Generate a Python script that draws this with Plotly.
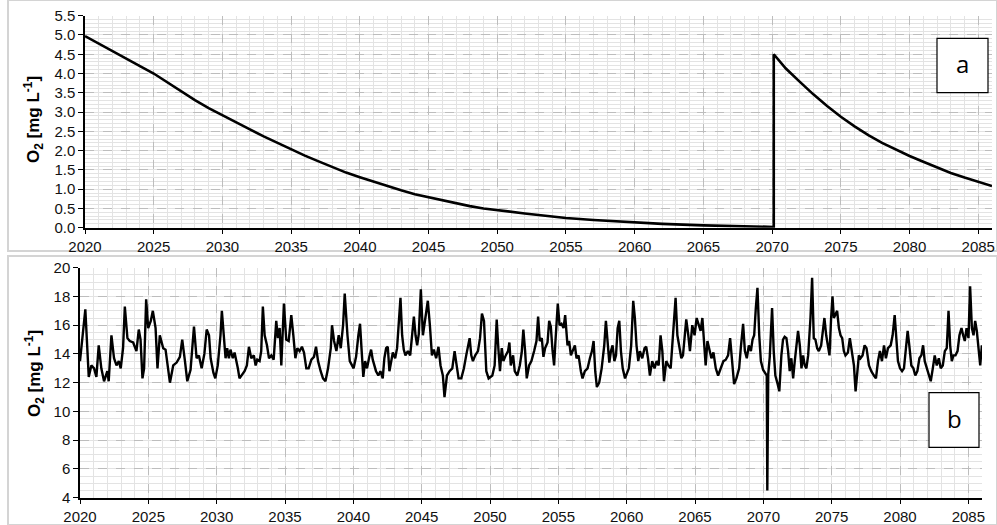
import plotly.graph_objects as go

# ---------------- Panel a: O2 (smooth) ----------------
a_years = [2020, 2021, 2022, 2023, 2024, 2025, 2026, 2027, 2028, 2029,
           2030, 2031, 2032, 2033, 2034, 2035, 2036, 2037, 2038, 2039,
           2040, 2041, 2042, 2043, 2044, 2045, 2046, 2047, 2048, 2049,
           2050, 2052, 2054, 2055, 2057, 2060, 2062, 2065, 2068, 2070, 2070.12,
           2070.12, 2070.5, 2071, 2072, 2073, 2074, 2075, 2076, 2077, 2078, 2079,
           2080, 2081, 2082, 2083, 2084, 2085, 2086]
a_o2 = [4.97, 4.77, 4.57, 4.38, 4.19, 4.0, 3.77, 3.53, 3.31, 3.1,
        2.91, 2.72, 2.55, 2.37, 2.2, 2.03, 1.87, 1.72, 1.57, 1.43,
        1.31, 1.19, 1.07, 0.97, 0.87, 0.79, 0.71, 0.63, 0.56, 0.5,
        0.45, 0.37, 0.29, 0.25, 0.2, 0.14, 0.1, 0.06, 0.03, 0.02, 0.02,
        4.5, 4.33, 4.13, 3.79, 3.46, 3.16, 2.88, 2.63, 2.4, 2.2, 2.02,
        1.86, 1.71, 1.56, 1.42, 1.3, 1.18, 1.08]

# ---------------- Panel b: O2 (noisy) ----------------
b_years = [
    2020.00, 2020.39, 2020.64, 2020.83, 2021.03, 2021.20, 2021.37, 2021.56, 2021.76, 2022.00,
    2022.10, 2022.30, 2022.49, 2022.67, 2022.84, 2022.98, 2023.15, 2023.28, 2023.47, 2023.64,
    2023.89, 2024.13, 2024.30, 2024.43, 2024.57, 2024.69, 2024.84, 2024.99, 2025.18, 2025.33,
    2025.53, 2025.67, 2025.84, 2026.09, 2026.26, 2026.41, 2026.58, 2026.82, 2027.07, 2027.31,
    2027.48, 2027.68, 2027.85, 2028.09, 2028.34, 2028.53, 2028.70, 2028.90, 2029.10, 2029.27,
    2029.44, 2029.56, 2029.76, 2029.90,
    2030.08, 2030.28, 2030.38, 2030.52, 2030.65, 2030.77, 2030.89, 2031.01, 2031.18, 2031.31,
    2031.43, 2031.55, 2031.67, 2031.84, 2032.04, 2032.21, 2032.36, 2032.53, 2032.72, 2032.85,
    2032.97, 2033.14, 2033.26, 2033.38, 2033.51, 2033.68, 2033.83, 2034.00, 2034.17, 2034.36,
    2034.48, 2034.61, 2034.73, 2034.92, 2035.09, 2035.27, 2035.46, 2035.61, 2035.76, 2035.90,
    2036.07, 2036.24, 2036.39, 2036.56, 2036.73, 2036.93, 2037.12, 2037.27, 2037.42, 2037.61,
    2037.78, 2037.96, 2038.15, 2038.35, 2038.44, 2038.59, 2038.76, 2038.93, 2039.08, 2039.25,
    2039.37, 2039.57, 2039.74,
    2040.02, 2040.20, 2040.37, 2040.49, 2040.61, 2040.73, 2040.86, 2041.00, 2041.17, 2041.30,
    2041.42, 2041.54, 2041.66, 2041.83, 2041.98, 2042.15, 2042.27, 2042.40, 2042.52, 2042.64,
    2042.76, 2042.89, 2043.06, 2043.20, 2043.30, 2043.45, 2043.57, 2043.69, 2043.81, 2043.99,
    2044.16, 2044.30, 2044.43, 2044.55, 2044.67, 2044.79, 2044.94, 2045.09, 2045.26, 2045.45,
    2045.60, 2045.75, 2045.89, 2046.06, 2046.23, 2046.38, 2046.55, 2046.67, 2046.85, 2047.04,
    2047.24, 2047.41, 2047.53, 2047.70, 2047.90, 2048.09, 2048.26, 2048.39, 2048.51, 2048.63,
    2048.75, 2048.92, 2049.12, 2049.27, 2049.41, 2049.56, 2049.73, 2049.90,
    2050.17, 2050.34, 2050.49, 2050.61, 2050.73, 2050.86, 2050.98, 2051.15, 2051.32, 2051.42,
    2051.52, 2051.69, 2051.81, 2052.00, 2052.18, 2052.32, 2052.44, 2052.57, 2052.69, 2052.86,
    2053.03, 2053.23, 2053.40, 2053.52, 2053.64, 2053.79, 2053.91, 2054.03, 2054.21, 2054.33,
    2054.45, 2054.57, 2054.69, 2054.79, 2054.96, 2055.09, 2055.23, 2055.38, 2055.50, 2055.67,
    2055.79, 2055.92, 2056.04, 2056.21, 2056.33, 2056.48, 2056.65, 2056.77, 2056.94, 2057.14,
    2057.31, 2057.46, 2057.58, 2057.70, 2057.82, 2057.99, 2058.17, 2058.36, 2058.48, 2058.61,
    2058.73, 2058.85, 2058.97, 2059.10, 2059.22, 2059.34, 2059.46, 2059.58, 2059.71, 2059.88,
    2060.16, 2060.33, 2060.48, 2060.60, 2060.72, 2060.85, 2060.97, 2061.14, 2061.31, 2061.43,
    2061.56, 2061.70, 2061.87, 2062.04, 2062.19, 2062.34, 2062.48, 2062.61, 2062.73, 2062.90,
    2063.05, 2063.22, 2063.34, 2063.46, 2063.58, 2063.71, 2063.83, 2064.00, 2064.12, 2064.27,
    2064.36, 2064.51, 2064.63, 2064.80, 2064.97, 2065.12, 2065.29, 2065.41, 2065.54, 2065.66,
    2065.78, 2065.91, 2066.03, 2066.20, 2066.35, 2066.52, 2066.69, 2066.89, 2067.08, 2067.25,
    2067.42, 2067.57, 2067.74, 2067.86, 2068.03, 2068.23, 2068.35, 2068.52, 2068.65, 2068.79,
    2068.94, 2069.09, 2069.21, 2069.33, 2069.45, 2069.57, 2069.70, 2069.82, 2069.98,
    2070.15, 2070.25, 2070.29, 2070.36, 2070.47, 2070.64, 2070.76, 2070.88, 2071.05, 2071.17,
    2071.32, 2071.44, 2071.56, 2071.69, 2071.81, 2071.93, 2072.05, 2072.18, 2072.30, 2072.42,
    2072.54, 2072.67, 2072.79, 2072.91, 2073.03, 2073.15, 2073.28, 2073.45, 2073.57, 2073.69,
    2073.81, 2073.94, 2074.06, 2074.23, 2074.35, 2074.47, 2074.60, 2074.72, 2074.84, 2074.96,
    2075.06, 2075.16, 2075.28, 2075.40, 2075.53, 2075.65, 2075.77, 2075.89, 2076.01, 2076.19,
    2076.33, 2076.45, 2076.63, 2076.75, 2076.87, 2076.99, 2077.11, 2077.26, 2077.41, 2077.55,
    2077.73, 2077.90, 2078.09, 2078.24, 2078.39, 2078.53, 2078.68, 2078.83, 2078.97, 2079.12,
    2079.32, 2079.46, 2079.61, 2079.73, 2079.85, 2080.00, 2080.15, 2080.29, 2080.44, 2080.56,
    2080.68, 2080.83, 2080.98, 2081.12, 2081.27, 2081.42, 2081.56, 2081.69, 2081.81, 2081.96,
    2082.10, 2082.25, 2082.40, 2082.54, 2082.69, 2082.84, 2082.98, 2083.13, 2083.28, 2083.42,
    2083.55, 2083.67, 2083.79, 2083.91, 2084.06, 2084.21, 2084.35, 2084.50, 2084.62, 2084.74,
    2084.87, 2085.01, 2085.13, 2085.26, 2085.38, 2085.50, 2085.62, 2085.75, 2085.87, 2085.99,
]
b_o2 = [
    13.5, 17.1, 12.4, 13.2, 13.0, 12.4, 14.6, 13.0, 12.1, 12.8,
    12.1, 15.3, 13.7, 13.2, 13.5, 13.0, 14.4, 17.3, 15.1, 14.9,
    14.8, 14.2, 15.7, 15.0, 12.3, 13.0, 17.8, 15.8, 16.3, 17.0,
    15.8, 13.0, 15.3, 14.4, 14.3, 13.2, 12.0, 13.2, 13.4, 13.8,
    15.0, 13.5, 12.1, 12.9, 15.9, 13.7, 13.9, 13.0, 14.0, 15.7,
    15.3, 13.7, 12.7, 12.3,
    13.2, 15.3, 17.0, 15.3, 13.7, 14.4, 13.7, 14.3, 13.7, 14.1,
    13.6, 13.0, 12.3, 12.5, 12.8, 13.2, 14.5, 13.7, 13.9, 13.2,
    13.6, 13.5, 14.2, 17.3, 15.3, 14.6, 13.7, 13.9, 13.6, 16.3,
    15.1, 15.8, 13.2, 17.5, 15.0, 14.9, 16.7, 15.3, 13.7, 14.4,
    14.2, 14.5, 14.1, 13.0, 13.0, 13.6, 13.8, 14.5, 13.5, 12.8,
    12.3, 12.1, 13.0, 14.4, 16.0, 14.9, 14.2, 15.3, 14.4, 16.0,
    18.2, 15.3, 13.5,
    13.0, 13.8, 15.3, 16.1, 14.2, 12.4, 13.5, 13.0, 13.8, 14.3,
    13.6, 13.2, 12.8, 12.5, 12.8, 12.3, 13.7, 14.4, 14.5, 12.8,
    13.5, 14.1, 13.7, 14.4, 15.8, 17.9, 15.3, 14.3, 13.9, 14.2,
    13.9, 15.3, 16.6, 15.3, 14.6, 15.4, 18.5, 15.3, 16.3, 17.7,
    16.0, 13.9, 14.3, 13.7, 14.5, 13.2, 12.5, 11.0, 12.5, 12.8,
    13.0, 14.2, 13.4, 12.3, 12.3, 13.0, 13.9, 14.6, 15.1, 13.9,
    13.5, 13.9, 14.2, 15.1, 16.8, 16.3, 12.8, 12.3,
    12.5, 13.2, 16.4, 14.4, 12.8, 14.4, 13.5, 13.9, 14.2, 14.8,
    13.2, 13.9, 12.8, 12.5, 13.2, 14.1, 15.7, 14.2, 12.3, 13.2,
    13.5, 14.2, 14.9, 16.6, 14.9, 15.1, 13.8, 14.4, 14.8, 16.3,
    15.9, 14.3, 13.2, 14.9, 17.5, 16.0, 16.1, 15.8, 16.7, 14.6,
    14.9, 13.9, 14.2, 14.6, 13.7, 13.9, 12.8, 12.3, 12.8, 13.0,
    13.7, 14.2, 14.9, 12.8, 11.7, 12.0, 13.0, 14.6, 16.3, 14.6,
    13.4, 14.2, 14.6, 13.5, 13.9, 15.8, 16.3, 14.2, 13.0, 12.3,
    13.0, 14.6, 17.7, 16.5, 14.6, 13.5, 14.2, 13.7, 14.4, 14.5,
    13.7, 12.5, 13.5, 13.0, 13.5, 13.2, 15.3, 14.2, 12.1, 13.5,
    13.2, 13.0, 14.9, 16.3, 17.9, 15.3, 14.6, 13.7, 13.9, 15.3,
    16.4, 15.3, 14.2, 16.0, 15.3, 16.5, 16.0, 15.6, 16.5, 14.4,
    13.2, 14.9, 14.4, 13.7, 14.1, 13.0, 12.5, 13.0, 13.5, 13.6,
    13.9, 15.1, 13.0, 11.9, 12.3, 13.0, 14.4, 16.1, 14.2, 13.7,
    14.6, 14.2, 15.0, 15.3, 17.2, 18.6, 15.3, 13.5, 12.9,
    12.7, 12.5, 4.5, 12.6, 13.8, 17.2, 14.2, 12.5, 11.9, 11.4,
    13.9, 15.0, 15.2, 15.1, 14.2, 12.8, 13.7, 12.3, 13.5, 14.6,
    15.6, 14.6, 13.0, 13.9, 13.2, 13.0, 13.9, 16.5, 19.3, 15.1,
    15.0, 14.4, 14.2, 14.6, 15.6, 16.5, 15.3, 14.4, 13.9, 16.5,
    18.0, 16.5, 16.7, 17.0, 15.8, 15.3, 15.1, 14.2, 13.9, 14.1,
    15.1, 14.2, 13.2, 11.4, 12.8, 13.9, 13.7, 13.9, 14.6, 14.4,
    13.2, 12.8, 12.5, 12.3, 13.5, 14.2, 13.5, 14.6, 13.7, 14.4,
    14.6, 15.3, 16.7, 15.3, 13.5, 13.0, 12.8, 13.0, 14.4, 15.6,
    14.6, 13.2, 13.0, 12.5, 12.8, 13.7, 13.9, 14.6, 13.5, 13.0,
    12.5, 12.1, 13.0, 13.9, 13.2, 13.7, 13.0, 13.2, 14.2, 14.4,
    17.0, 14.6, 13.5, 13.9, 13.9, 14.2, 15.3, 15.8, 15.3, 14.9,
    15.8, 15.1, 18.7, 15.8, 15.3, 16.3, 15.6, 14.2, 13.2, 14.6,
]

x_range = [2020, 2086]
a_yticks = [0.0, 0.5, 1.0, 1.5, 2.0, 2.5, 3.0, 3.5, 4.0, 4.5, 5.0, 5.5]
b_yticks = [4, 6, 8, 10, 12, 14, 16, 18, 20]
x_ticks = list(range(2020, 2086, 5))

W, H = 997, 525
FONT = "Liberation Sans, Arial, sans-serif"

fig = go.Figure()
fig.add_trace(go.Scatter(x=a_years, y=a_o2, mode="lines",
                         line=dict(color="black", width=2.6),
                         xaxis="x", yaxis="y", showlegend=False))
fig.add_trace(go.Scatter(x=b_years, y=b_o2, mode="lines",
                         line=dict(color="black", width=2.4), xaxis="x2", yaxis="y2",
                         showlegend=False))

grid_major = dict(showgrid=True, gridcolor="#bdbdbd", griddash="dash", gridwidth=1)
minor_style = dict(showgrid=True, gridcolor="#e3e3e3", griddash="solid", gridwidth=1)

def xaxis(domain, anchor):
    return dict(domain=domain, anchor=anchor, range=x_range, tickmode="array",
                tickvals=x_ticks, ticktext=[str(t) for t in x_ticks],
                showline=True, linecolor="black", linewidth=1.5,
                ticks="outside", ticklen=5, tickcolor="black", tickwidth=1,
                tickfont=dict(family=FONT, size=15, color="#111"),
                minor=dict(dtick=1, tick0=2020, **minor_style),
                zeroline=False, automargin=False, **grid_major)

def yaxis(domain, anchor, rng, ticks, fmt, mdt):
    return dict(domain=domain, anchor=anchor, range=rng, tickmode="array",
                tickvals=ticks, ticktext=[fmt.format(t) for t in ticks],
                showline=True, linecolor="black", linewidth=1.5,
                ticks="outside", ticklen=5, tickcolor="black", tickwidth=1,
                tickfont=dict(family=FONT, size=15, color="#111"),
                minor=dict(dtick=mdt, tick0=0, **minor_style),
                zeroline=False, automargin=False, **grid_major)

fig.update_layout(
    width=W, height=H,
    margin=dict(l=0, r=0, t=0, b=0),
    paper_bgcolor="white", plot_bgcolor="white",
    xaxis=xaxis([85 / W, 992 / W], "y"),
    yaxis=yaxis([1 - 227.7 / H, 1 - 15.7 / H], "x", [0, 5.5], a_yticks, "{:.1f}", 0.1),
    xaxis2=xaxis([80 / W, 982 / W], "y2"),
    yaxis2=yaxis([1 - 497.7 / H, 1 - 267.7 / H], "x2", [4, 20], b_yticks, "{:d}", 0.5),
)

# panel frames
fig.add_shape(type="rect", xref="paper", yref="paper",
              x0=8 / W, x1=1.0, y0=1 - 251 / H, y1=1.0,
              line=dict(color="#d4d4d4", width=2), layer="below")
fig.add_shape(type="rect", xref="paper", yref="paper",
              x0=8 / W, x1=1.0, y0=0.0, y1=1 - 256 / H,
              line=dict(color="#d4d4d4", width=2), layer="below")

# label boxes
fig.add_shape(type="rect", xref="paper", yref="paper",
              x0=937 / W, x1=988 / W, y0=1 - 92.7 / H, y1=1 - 38.3 / H,
              line=dict(color="black", width=1.2), fillcolor="white")
fig.add_shape(type="rect", xref="paper", yref="paper",
              x0=929 / W, x1=979 / W, y0=1 - 447.3 / H, y1=1 - 392.7 / H,
              line=dict(color="black", width=1.2), fillcolor="white")
fig.add_annotation(text="a", xref="paper", yref="paper", x=962.5 / W, y=1 - 63 / H,
                   xanchor="center", yanchor="middle", showarrow=False,
                   font=dict(family="Open Sans, sans-serif", size=24, color="black"))
fig.add_annotation(text="b", xref="paper", yref="paper", x=954 / W, y=1 - 418 / H,
                   xanchor="center", yanchor="middle", showarrow=False,
                   font=dict(family="Open Sans, sans-serif", size=24, color="black"))

# y titles
ytitle = "<b>O<sub>2</sub> [mg L<sup>-1</sup>]</b>"
fig.add_annotation(text=ytitle, xref="paper", yref="paper", x=34 / W, y=1 - 120 / H,
                   xanchor="center", yanchor="middle", textangle=-90, showarrow=False,
                   font=dict(family=FONT, size=17, color="black"))
fig.add_annotation(text=ytitle, xref="paper", yref="paper", x=34 / W, y=1 - 374 / H,
                   xanchor="center", yanchor="middle", textangle=-90, showarrow=False,
                   font=dict(family=FONT, size=17, color="black"))

fig.write_html("out.html", config={"displayModeBar": False},
               post_script="document.body.style.margin='0';document.body.style.overflow='hidden';")
